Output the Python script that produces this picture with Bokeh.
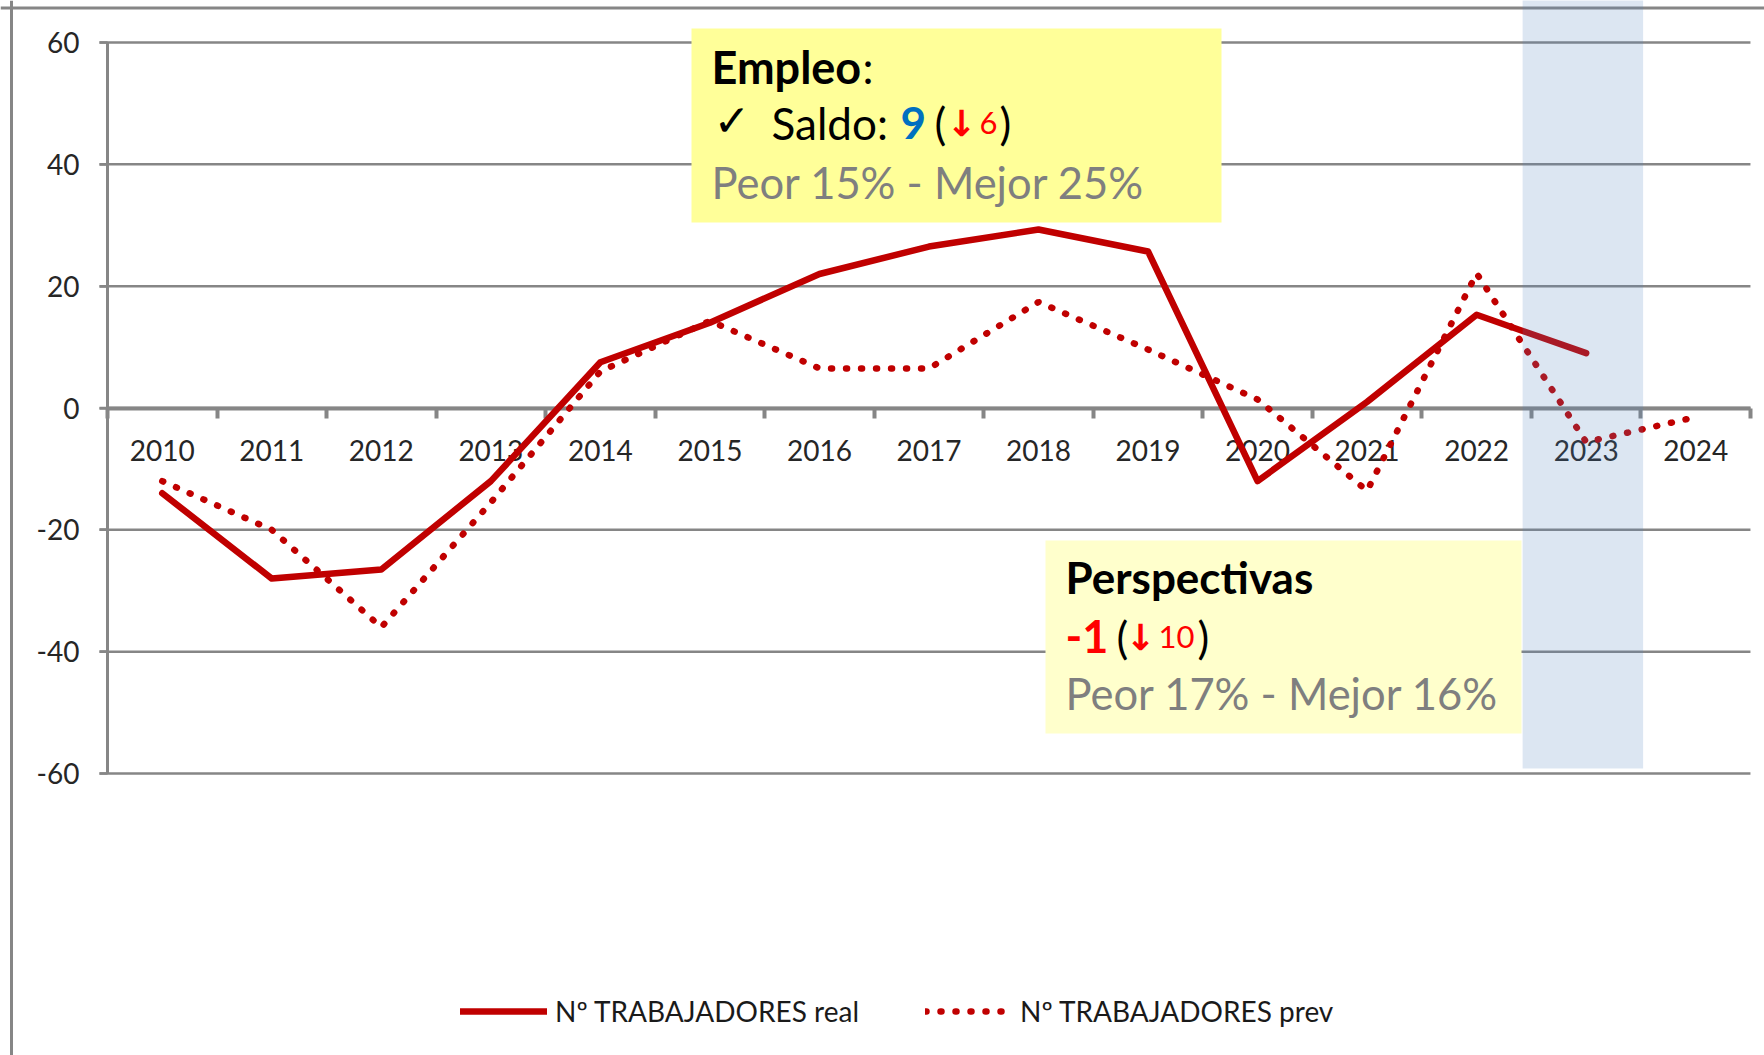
from bokeh.plotting import figure
from bokeh.models import Range1d, LinearAxis, FixedTicker, Span, Legend, LegendItem
from bokeh.core.properties import value
from bokeh.embed import file_html
from bokeh.resources import INLINE

# ---------------- data ----------------
years = ["2010", "2011", "2012", "2013", "2014", "2015", "2016", "2017",
         "2018", "2019", "2020", "2021", "2022", "2023", "2024"]
real = [-14, -28, -26.5, -12, 7.5, 14, 22, 26.5, 29.3, 25.7, -12, 1, 15.3, 9]
prev = [-12, -20, -36, -15.5, 6, 14.3, 6.5, 6.5, 17.4, 9.6, 1.4, -13.6, 22.1, -5.6, -1.5]
y_ticks = [-60, -40, -20, 0, 20, 40, 60]
highlight_year = "2023"
series_names = ["Nº TRABAJADORES real", "Nº TRABAJADORES prev"]

# ---------------- layout helpers (page pixels -> data) ----------------
W, H = 1764, 1055
X0, PX = 107.0, 109.53    # x of first category edge, px per category
Y0, PU = 407.5, 6.0917    # y of zero, px per unit
TEXT_DY = -16             # baseline correction for text glyphs


def fx(px):
    return (px - X0) / PX


def fy(py):
    return (Y0 - py) / PU


GRAY = "#868686"
RED = "#C00000"
FONT = "Lato"

p = figure(width=W, height=H,
           x_range=Range1d(fx(0), fx(W)), y_range=Range1d(fy(H), fy(0)),
           x_axis_type=None, y_axis_type=None,
           toolbar_location=None, output_backend="svg",
           min_border=0, outline_line_color=None,
           background_fill_color="white", border_fill_color="white")

n = len(years)
xs = [i + 0.5 for i in range(n)]

# gridlines (with outer tick extension)
p.segment(x0=fx(99), x1=n, y0=y_ticks, y1=y_ticks, line_color=GRAY, line_width=2.5)

# annotation boxes
p.quad(left=[fx(691)], right=[fx(1221)], top=[fy(28)], bottom=[fy(222)],
       fill_color="#FFFF99", line_color=None)
p.quad(left=[fx(1045)], right=[fx(1521)], top=[fy(540)], bottom=[fy(733)],
       fill_color="#FFFFCC", line_color=None)

# axes
yaxis = LinearAxis(fixed_location=0, bounds=(y_ticks[0], y_ticks[-1]),
                   ticker=FixedTicker(ticks=y_ticks),
                   major_label_overrides={t: str(t) for t in y_ticks},
                   axis_line_color=GRAY, axis_line_width=3,
                   major_tick_out=8, major_tick_in=0, major_tick_line_color=GRAY,
                   major_tick_line_width=2.5, minor_tick_line_color=None,
                   major_label_standoff=20, major_label_text_font=FONT,
                   major_label_text_font_size="28px", major_label_text_color="#262626")
p.add_layout(yaxis, "left")

tick_axis = LinearAxis(fixed_location=0, bounds=(0, n),
                       ticker=FixedTicker(ticks=list(range(n + 1))),
                       axis_line_color=GRAY, axis_line_width=4,
                       major_tick_out=10, major_tick_in=0, major_tick_line_color=GRAY,
                       major_tick_line_width=4, minor_tick_line_color=None,
                       major_label_overrides={i: "" for i in range(n + 1)})
p.add_layout(tick_axis, "below")

label_axis = LinearAxis(fixed_location=0, ticker=FixedTicker(ticks=xs),
                        major_label_overrides={x: y for x, y in zip(xs, years)},
                        axis_line_color=None, major_tick_line_color=None,
                        minor_tick_line_color=None, major_tick_out=0, major_tick_in=0,
                        major_label_standoff=32, major_label_text_font=FONT,
                        major_label_text_font_size="28px", major_label_text_color="#262626")
p.add_layout(label_axis, "below")

# series
r_real = p.line(xs[:len(real)], real, line_color=RED, line_width=6.5,
                line_join="round", line_cap="round", level="annotation")
r_prev = p.line(xs, prev, line_color=RED, line_width=6.5, line_dash="1 14",
                line_cap="round", level="annotation")

# highlight band for the current year
hi = years.index(highlight_year)
p.quad(left=[hi - 0.08], right=[hi + 1.02], bottom=[fy(768)], top=[fy(0)],
       fill_color="#4F81BD", fill_alpha=0.2, line_color=None, level="overlay")

# outer chart border
p.add_layout(Span(location=fx(11), dimension="height", line_color=GRAY, line_width=3))
p.add_layout(Span(location=fy(7.5), dimension="width", line_color=GRAY, line_width=3))


def txt(px, py, s, color, size, bold=False, font=FONT):
    p.text(x=[fx(px)], y=[fy(py + TEXT_DY)], text=[s], text_color=color,
           text_font=value(font), text_font_size=size,
           text_font_style="bold" if bold else "normal",
           text_baseline="alphabetic", text_align="left")


BLACK = "#000000"
GTXT = "#7F7F7F"
# Box 1
txt(711, 82, "Empleo", BLACK, "45px", bold=True)
txt(862, 82, ":", BLACK, "44px")
txt(713, 136, "✓", BLACK, "44px", font="DejaVu Sans")
txt(771, 138, "Saldo:", BLACK, "44px")
txt(900, 138, "9", "#0070C0", "44px", bold=True)
txt(934, 138, "(", BLACK, "44px")
txt(946, 139, "↓", "#FF0000", "36px", bold=True, font="DejaVu Sans")
txt(979, 138, "6", "#FF0000", "31px")
txt(999, 138, ")", BLACK, "44px")
txt(711, 197, "Peor 15% - Mejor 25%", GTXT, "43.5px")
# Box 2
txt(1065, 592, "Perspectivas", BLACK, "44px", bold=True)
txt(1065, 652, "-1", "#FF0000", "45px", bold=True)
txt(1116, 652, "(", BLACK, "44px")
txt(1125, 653, "↓", "#FF0000", "36px", bold=True, font="DejaVu Sans")
txt(1158, 652, "10", "#FF0000", "31px")
txt(1197, 652, ")", BLACK, "44px")
txt(1065, 708, "Peor 17% - Mejor 16%", GTXT, "43.5px")

legend = Legend(items=[LegendItem(label=series_names[0], renderers=[r_real]),
                       LegendItem(label=series_names[1], renderers=[r_prev])],
                orientation="horizontal", location=(460, 27),
                glyph_width=87, glyph_height=30, label_height=30,
                label_standoff=8, spacing=66, padding=0, margin=0,
                border_line_color=None, background_fill_alpha=0,
                label_text_font=FONT, label_text_font_size="28px",
                label_text_color="#1a1a1a")
p.add_layout(legend, "center")

open("out.html", "w").write(file_html(p, INLINE))
